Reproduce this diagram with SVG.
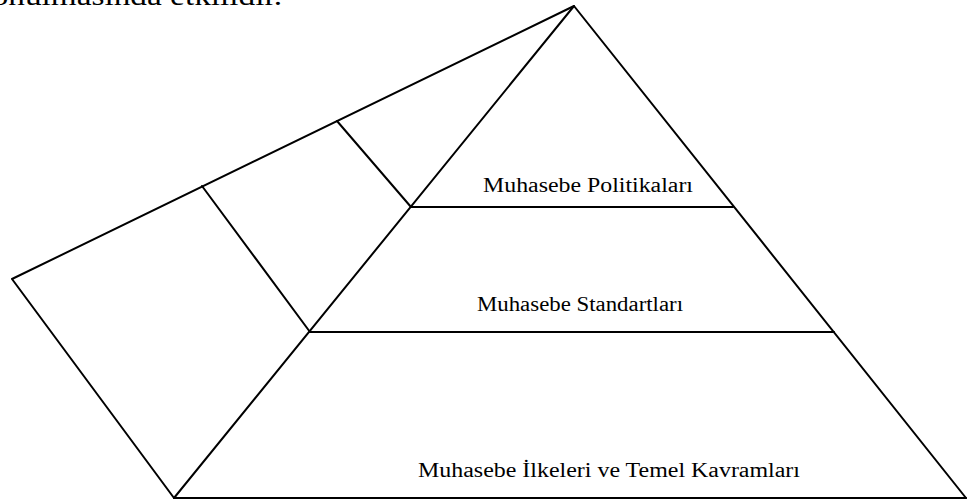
<svg xmlns="http://www.w3.org/2000/svg" width="968" height="504" viewBox="0 0 968 504">
<style>
.ln{stroke:#000;stroke-width:2;fill:none;stroke-linecap:round;stroke-linejoin:round}
.t{font-family:"Liberation Serif","Times New Roman",serif;font-size:20px;fill:#000}
</style>
<rect width="968" height="504" fill="#fff"/>
<text class="t" x="-25" y="5" style="font-size:28px" textLength="307" lengthAdjust="spacingAndGlyphs">konulmasında etkilidir.</text>
<g id="pyramid">
<polyline class="ln" points="174,498 574,6 966,498"/>
<line class="ln" x1="174" y1="498" x2="966" y2="498"/>
</g>
<g id="politikalar">
<line class="ln" x1="411" y1="207" x2="733" y2="207"/>
<text class="t" x="483" y="192" textLength="210" lengthAdjust="spacingAndGlyphs">Muhasebe Politikaları</text>
</g>
<g id="standartlar">
<line class="ln" x1="310" y1="332" x2="834" y2="332"/>
<text class="t" x="477" y="311" textLength="206" lengthAdjust="spacingAndGlyphs">Muhasebe Standartları</text>
</g>
<g id="ilkeler">
<text class="t" x="418" y="477" textLength="382" lengthAdjust="spacingAndGlyphs">Muhasebe İlkeleri ve Temel Kavramları</text>
</g>
<g id="side-panel">
<polyline class="ln" points="574,6 12,279 174,498"/>
<line class="ln" x1="202" y1="186" x2="310" y2="332"/>
<line class="ln" x1="337" y1="121" x2="411" y2="207"/>
</g>
</svg>
